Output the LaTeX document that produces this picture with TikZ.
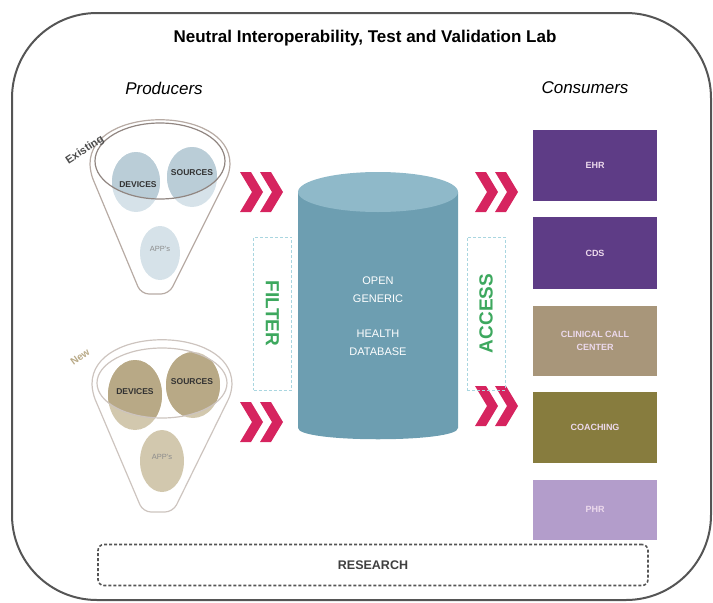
\documentclass[tikz,border=0pt]{standalone}
\usepackage{fontspec}
\setmainfont{Liberation Sans}
\usetikzlibrary{positioning, shapes.geometric}

\definecolor{framegray}{HTML}{555555}
\definecolor{chevred}{HTML}{D6245F}
\definecolor{filtergreen}{HTML}{3DA85E}
\definecolor{dashblue}{HTML}{A9D6E0}
\definecolor{dbbody}{HTML}{6D9EB1}
\definecolor{dbtop}{HTML}{8FB9C9}
\definecolor{ehrpurple}{HTML}{5E3C86}
\definecolor{calltan}{HTML}{A8967A}
\definecolor{coacholive}{HTML}{877C3E}
\definecolor{phrlilac}{HTML}{B39DCB}
\definecolor{oldlight}{HTML}{D6E2E9}
\definecolor{olddark}{HTML}{BACDD7}
\definecolor{newlight}{HTML}{D2C8AE}
\definecolor{newdark}{HTML}{B8A986}
\definecolor{funnelline}{HTML}{B7ABA4}
\definecolor{ringline}{HTML}{918681}

\begin{document}
\begin{tikzpicture}[x=1pt, y=-1pt,
        node distance=16pt,
        blob/.style = {ellipse, inner sep=0pt},
        blobtext/.style = {font=\bfseries\fontsize{8.5}{9}\selectfont, text=black!80},
        apptext/.style = {font=\fontsize{7.5}{8}\selectfont, text=black!45},
        sidebox/.style = {rectangle, draw=dashblue, densely dashed, minimum width=38pt, minimum height=153pt,
                text=filtergreen, font=\bfseries\fontsize{19}{20}\selectfont},
        consumer/.style = {rectangle, minimum width=124pt, minimum height=71pt, align=center,
                text=white!85!violet, font=\bfseries\fontsize{9}{13}\selectfont}
    ]
    \useasboundingbox (0,0) rectangle (713,603);

    % outer lab frame
    \draw[framegray, line width=2pt, rounded corners=85pt] (12,13) rectangle (711,600);

    \node (title) at (365,38) {\bfseries\fontsize{17}{19}\selectfont Neutral Interoperability, Test and Validation Lab};
    \node (prod) at (164,88) {\itshape\fontsize{17}{18}\selectfont Producers};
    \node (cons) at (585,88) {\itshape\fontsize{17}{18}\selectfont Consumers};

    % existing producers funnel
    \draw[funnelline, line width=1.2pt, rounded corners=8pt]
        (90,172) .. controls (90,105) and (230,105) .. (230,172) -- (169,294) -- (141,294) -- cycle;
    \node (dev1) [blob, fill=oldlight, minimum width=48pt, minimum height=60pt] at (136,182) {};
    \node (src1) [blob, fill=oldlight, minimum width=50pt, minimum height=60pt] at (192,177) {};
    \node (app1) [blob, fill=oldlight, minimum width=40pt, minimum height=54pt] at (160,253) {};
    \begin{scope}
        \clip (160,161) ellipse [x radius=65, y radius=38];
        \fill[olddark] (136,182) ellipse [x radius=24, y radius=30];
        \fill[olddark] (192,177) ellipse [x radius=25, y radius=30];
    \end{scope}
    \draw[ringline, line width=1.2pt] (160,161) ellipse [x radius=65, y radius=38];
    \node[blobtext] at (138,185) {DEVICES};
    \node[blobtext] at (192,173) {SOURCES};
    \node[apptext] at (160,249) {APP's};
    \node (existing) [rotate=33, font=\bfseries\fontsize{11}{12}\selectfont, text=black!70] at (85,150) {Existing};

    % new producers funnel
    \draw[funnelline!70, line width=1.2pt, rounded corners=8pt]
        (92,392) .. controls (92,325) and (232,325) .. (232,392) -- (173,512) -- (143,512) -- cycle;
    \node (dev2) [blob, fill=newlight, minimum width=54pt, minimum height=70pt] at (135,395) {};
    \node (src2) [blob, fill=newlight, minimum width=54pt, minimum height=66pt] at (193,385) {};
    \node (app2) [blob, fill=newlight, minimum width=44pt, minimum height=62pt] at (162,461) {};
    \begin{scope}
        \clip (162,383) ellipse [x radius=65, y radius=35];
        \fill[newdark] (135,395) ellipse [x radius=27, y radius=35];
        \fill[newdark] (193,385) ellipse [x radius=27, y radius=33];
    \end{scope}
    \draw[funnelline!70, line width=1.2pt] (162,383) ellipse [x radius=65, y radius=35];
    \node[blobtext] at (135,392) {DEVICES};
    \node[blobtext] at (192,382) {SOURCES};
    \node[apptext] at (162,457) {APP's};
    \node (new) [rotate=36, font=\bfseries\fontsize{10}{11}\selectfont, text=newdark] at (80,357) {New};

    % red chevrons
    \foreach \cx/\cy in {240/172, 240/402, 475/172, 475/386}
        \foreach \d in {0,20}
            \fill[chevred] (\cx+\d,\cy) -- ++(11,0) -- ++(12,20) -- ++(-12,20) -- ++(-11,0) -- ++(12,-20) -- cycle;

    % database
    \fill[dbbody] (298,192) -- (298,428) .. controls (298,443) and (458,443) .. (458,428) -- (458,192) -- cycle;
    \fill[dbtop] (378,192) ellipse [x radius=80, y radius=20];
    \node (db) [align=center, text=white, font=\fontsize{11}{18}\selectfont] at (378,316)
        {OPEN\\GENERIC\\[17pt]HEALTH\\DATABASE};

    \node (filter) [sidebox] at (272.5,313.5) {\rotatebox{-90}{FILTER}};
    \node (access) [sidebox] at (486,313.5) {\rotatebox{90}{ACCESS}};

    % consumers
    \node (ehr)        [consumer, fill=ehrpurple] at (595,165.5) {EHR};
    \node (cds)        [consumer, fill=ehrpurple, below=of ehr, minimum height=72pt] {CDS};
    \node (callcenter) [consumer, fill=calltan, below=of cds, minimum height=70pt] {CLINICAL CALL\\CENTER};
    \node (coaching)   [consumer, fill=coacholive, below=of callcenter] {COACHING};
    \node (phr)        [consumer, fill=phrlilac, below=of coaching, minimum height=60pt] {PHR};

    \node (research) [rectangle, rounded corners=6pt, draw=framegray, densely dashed, line width=1.6pt,
        minimum width=550pt, minimum height=41pt, font=\bfseries\fontsize{12.5}{14}\selectfont, text=black!75]
        at (373,565) {RESEARCH};
\end{tikzpicture}
\end{document}
